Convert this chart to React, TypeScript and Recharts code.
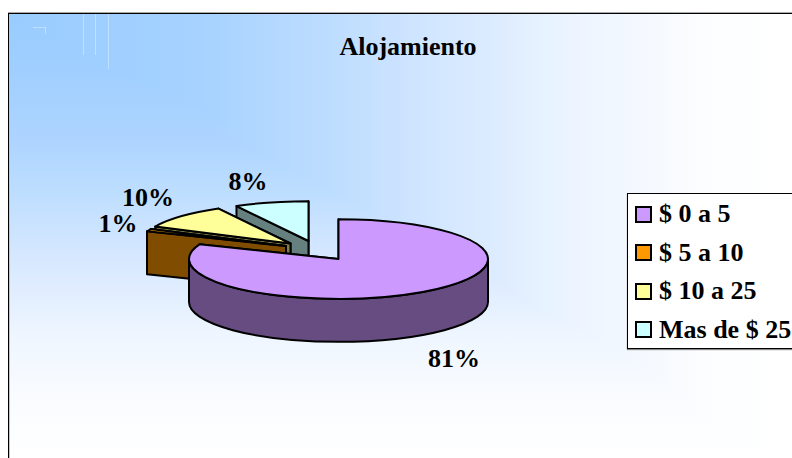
import React from 'react';
import { PieChart, Pie, Legend } from 'recharts';

const CATEGORIES = ['$ 0 a 5', '$ 5 a 10', '$ 10 a 25', 'Mas de $ 25'];
const VALUES = [81, 1, 10, 8];
const COLORS = ['#CC99FF', '#FF9900', '#FFFF99', '#CCFFFF'];
const DARK_COLORS = ['#664C80', '#804D00', '#80804C', '#668080'];

// pull-out of each slice, in px, same order as the categories
const EXPLODE = [[0, 0], [-52.5, -13], [-48, -15.5], [-30, -18]];
const LABEL_POS = [[454, 367], [118, 232], [148, 206], [248, 190]];

const FONT = '"Liberation Serif", "Times New Roman", serif';
const TILT = 40 / 150;
const DEPTH = 43;
const LINE = 2;

// the panel fades from the top left corner: bands are vertical on the right, horizontal at the bottom
const FADE_X = '#99CCFF 0px, #9FCFFF 92px, #A6D2FF 192px, #B5D9FF 272px, #BFDEFF 332px, #CCE3FF 392px, #D5E8FF 442px, #DEECFF 492px, #E6F2FF 532px, #F0F6FF 592px, #FBFDFF 692px, #FFFFFF 770px';
const FADE_Y = '#99CCFF 0px, #A0CFFF 57px, #ADD4FF 124px, #BCDDFF 174px, #CFE5FF 224px, #E0EDFF 274px, #EFF6FF 324px, #F8FBFF 374px, #FDFEFF 424px, #FFFFFF 445px';

// drawn back to front, so the big slice goes last and the angles run counter-clockwise
const rows = CATEGORIES.map((name, i) => ({ name, value: VALUES[i], slice: i })).reverse();

const SliceShape = (props: any) => {
    const { cx, cy, outerRadius: rx, startAngle, endAngle } = props;
    const slice = props.slice ?? props.payload?.slice;
    const ry = rx * TILT;
    const ax = cx + EXPLODE[slice][0];
    const ay = cy + EXPLODE[slice][1];
    const at = (deg: number, down = 0) => {
        const r = (deg * Math.PI) / 180;
        return `${ax + rx * Math.cos(r)} ${ay - ry * Math.sin(r) + down}`;
    };
    const large = endAngle - startAngle > 180 ? 1 : 0;
    const wall = (deg: number) =>
        `M${ax} ${ay} L${at(deg)} L${at(deg, DEPTH)} L${ax} ${ay + DEPTH} Z`;
    const from = Math.max(startAngle, 180);
    const to = Math.min(endAngle, 360);
    const dark = DARK_COLORS[slice];
    return (
        <g stroke="#000" strokeWidth={LINE} strokeLinejoin="round">
            <path d={wall(startAngle)} fill={dark} />
            <path d={wall(endAngle)} fill={dark} />
            {from < to && (
                <path
                    d={`M${at(from)} A${rx} ${ry} 0 0 0 ${at(to)} L${at(to, DEPTH)} A${rx} ${ry} 0 0 1 ${at(from, DEPTH)} Z`}
                    fill={dark}
                />
            )}
            <path
                d={`M${ax} ${ay} L${at(startAngle)} A${rx} ${ry} 0 ${large} 0 ${at(endAngle)} Z`}
                fill={COLORS[slice]}
            />
        </g>
    );
};

const SliceLabel = (props: any) => {
    const slice = props.slice ?? props.payload?.slice;
    return (
        <text
            x={LABEL_POS[slice][0]}
            y={LABEL_POS[slice][1]}
            textAnchor="middle"
            fontFamily={FONT}
            fontWeight="bold"
            fontSize={26}
            fill="#000"
        >
            {`${VALUES[slice]}%`}
        </text>
    );
};

const LegendBox = () => (
    <div
        style={{
            width: 180,
            height: 156,
            boxSizing: 'border-box',
            background: '#fff',
            border: '1px solid #000',
            boxShadow: '0 1px 1px #888',
            paddingTop: 1,
            fontFamily: FONT,
            fontWeight: 'bold',
            fontSize: 26,
            color: '#000',
        }}
    >
        {CATEGORIES.map((name, i) => (
            <div key={name} style={{ display: 'flex', alignItems: 'center', height: 38.5, paddingLeft: 7 }}>
                <span
                    style={{
                        width: 17,
                        height: 17,
                        boxSizing: 'border-box',
                        border: '2px solid #000',
                        background: COLORS[i],
                        marginRight: 7,
                    }}
                />
                <span style={{ whiteSpace: 'nowrap' }}>{name}</span>
            </div>
        ))}
    </div>
);

const STREAKS = [
    { left: 83, top: 14, width: 1, height: 41 },
    { left: 95, top: 14, width: 1, height: 41 },
    { left: 108, top: 14, width: 1, height: 55 },
    { left: 33, top: 27, width: 13, height: 1 },
    { left: 45, top: 27, width: 1, height: 7 },
];

const App = () => (
    <div style={{ position: 'absolute', left: 0, top: 0, width: 792, height: 458, overflow: 'hidden', background: '#fff' }}>
        <div
            style={{
                position: 'absolute',
                left: 8,
                top: 13,
                width: 820,
                height: 480,
                boxSizing: 'border-box',
                borderLeft: '1px solid #000',
                borderTop: '1px solid #000',
                boxShadow: '0 -1px 0 #aaa, inset 1px 0 0 #c4c4c4',
                backgroundImage: `linear-gradient(to right, ${FADE_X}), linear-gradient(to bottom, ${FADE_Y})`,
                backgroundBlendMode: 'lighten',
            }}
        />
        {STREAKS.map((s, i) => (
            <div key={i} style={{ position: 'absolute', ...s, background: 'rgba(255,255,255,0.35)' }} />
        ))}
        <div
            style={{
                position: 'absolute',
                left: 308,
                width: 200,
                top: 32,
                textAlign: 'center',
                fontFamily: FONT,
                fontWeight: 'bold',
                fontSize: 26,
                lineHeight: '29px',
                color: '#000',
            }}
        >
            Alojamiento
        </div>
        <PieChart
            width={792}
            height={458}
            margin={{ top: 0, right: 0, bottom: 0, left: 0 }}
            style={{ position: 'absolute', left: 0, top: 0 }}
        >
            <Pie
                data={rows}
                dataKey="value"
                nameKey="name"
                cx={338.5}
                cy={259}
                innerRadius={0}
                outerRadius={149.5}
                startAngle={90}
                endAngle={450}
                shape={SliceShape}
                label={SliceLabel}
                labelLine={false}
                isAnimationActive={false}
            />
            <Legend
                content={<LegendBox />}
                wrapperStyle={{ position: 'absolute', left: 627, top: 193, width: 180, height: 156 }}
            />
        </PieChart>
    </div>
);

export default App;
